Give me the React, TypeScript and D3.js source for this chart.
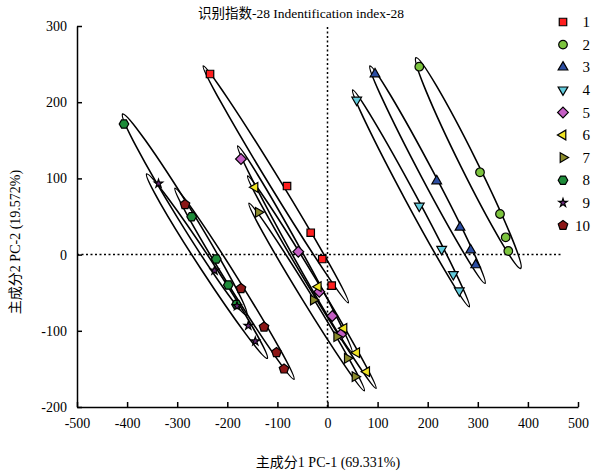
import React, { useEffect, useRef } from 'react';
import * as d3 from 'd3';

const W = 602;
const H = 475;

const seriesNames = ['1', '2', '3', '4', '5', '6', '7', '8', '9', '10'];
const seriesColors = ['#ff1f1f', '#7cc43e', '#2c4ea3', '#62cbdc', '#c45ec4', '#f0e424', '#8a8a2a', '#1e8c3a', '#6a2a7a', '#8b1616'];
const seriesShapes = ['square', 'circle', 'up', 'down', 'diamond', 'left', 'right', 'hexagon', 'star', 'pentagon'];

// PC-1 scores per group
const pc1Values = [
  [-234.5, -80.8, -33.5, -10.4, 8.4],
  [183.2, 304.4, 344.3, 355.7, 360.9],
  [94.8, 218.0, 264.5, 285.8, 295.8],
  [58.3, 183.2, 227.9, 251.1, 263.1],
  [-172.7, -58.3, -16.4, 9.6, 26.9],
  [-144.7, -18.4, 32.9, 58.3, 78.2],
  [-138.1, -28.3, 18.4, 39.5, 54.9],
  [-406.2, -271.1, -222.0, -198.0, -181.6],
  [-337.3, -225.5, -180.6, -158.1, -144.1],
  [-284.4, -172.7, -126.7, -101.8, -86.8],
];

// PC-2 scores per group
const pc2Values = [
  [237.0, 90.0, 28.7, -5.8, -40.8],
  [246.6, 108.0, 53.3, 22.7, 4.7],
  [237.0, 96.6, 35.8, 6.0, -13.6],
  [202.9, 63.8, 7.0, -25.9, -47.4],
  [125.5, 3.8, -48.7, -80.6, -104.6],
  [88.3, -42.1, -96.7, -128.7, -153.7],
  [55.5, -59.6, -107.7, -136.1, -160.2],
  [171.4, 49.7, -5.8, -39.9, -65.5],
  [93.3, -20.9, -67.5, -93.3, -113.8],
  [65.7, -44.5, -95.0, -128.5, -150.1],
];

// confidence ellipses: ends of the long axis (PC-1, PC-2) and short/long axis ratio
const ellipseStart = [
  [-247.9, 247.5], [176.6, 258.4], [84.8, 247.5], [50.3, 216.0], [-179.2, 142.5],
  [-159.3, 103.1], [-156.7, 67.3], [-408.8, 184.5], [-360.9, 105.8], [-304.4, 87.0],
];
const ellipseEnd = [
  [41.5, -63.1], [385.6, -18.0], [314.4, -37.7], [283.0, -68.4], [48.9, -127.8],
  [96.8, -175.5], [73.5, -178.6], [-161.3, -79.3], [-120.2, -136.1], [-66.9, -163.6],
];
const ellipseRatio = [0.04, 0.07, 0.052, 0.046, 0.042, 0.04, 0.045, 0.066, 0.06, 0.05];

const xTicks = [-500, -400, -300, -200, -100, 0, 100, 200, 300, 400, 500];
const yTicks = [-200, -100, 0, 100, 200, 300];

const serif = "'Liberation Serif', 'Times New Roman', 'Noto Sans CJK SC', serif";

const polygon = (n: number, r: number, rot: number) => {
  const pts = d3.range(n).map(i => {
    const a = rot + (i * 2 * Math.PI) / n;
    return [r * Math.cos(a), r * Math.sin(a)];
  });
  return 'M' + pts.map(p => p.join(',')).join('L') + 'Z';
};

const symbolPath = (shape: string) => {
  switch (shape) {
    case 'square': return d3.symbol(d3.symbolSquare, 56)();
    case 'circle': return d3.symbol(d3.symbolCircle, 58)();
    case 'up': return polygon(3, 5.6, -Math.PI / 2);
    case 'down': return polygon(3, 5.6, Math.PI / 2);
    case 'left': return polygon(3, 5.6, Math.PI);
    case 'right': return polygon(3, 5.6, 0);
    case 'diamond': return polygon(4, 5.4, 0);
    case 'hexagon': return polygon(6, 4.8, 0);
    case 'pentagon': return polygon(5, 5, -Math.PI / 2);
    case 'star': return d3.symbol(d3.symbolStar, 22)();
    default: return d3.symbol(d3.symbolCircle, 58)();
  }
};

const App = () => {
  const xAxisRef = useRef<SVGGElement>(null);
  const yAxisRef = useRef<SVGGElement>(null);

  const x = d3.scaleLinear().domain([-500, 500]).range([77, 578]);
  const y = d3.scaleLinear().domain([-200, 300]).range([407, 26]);

  useEffect(() => {
    const xa = d3.axisBottom(x).tickValues(xTicks).tickSize(-5).tickSizeOuter(0).tickPadding(11)
      .tickFormat(d => String(d));
    const ya = d3.axisLeft(y).tickValues(yTicks).tickSize(-5).tickSizeOuter(0).tickPadding(10)
      .tickFormat(d => String(d));
    const gx = d3.select(xAxisRef.current).call(xa);
    const gy = d3.select(yAxisRef.current).call(ya);
    [gx, gy].forEach(g => {
      g.selectAll('path, line').attr('stroke', '#000').attr('stroke-width', 1.5);
      g.selectAll('text').attr('fill', '#000').style('font-size', '14px').style('font-family', serif);
    });
  }, []);

  return (
    <svg width={W} height={H} style={{ position: 'absolute', left: 0, top: 0, background: '#fff' }}>
      <text x={301} y={18} textAnchor="middle" fontSize={13.5} fontFamily={serif}>识别指数-28 Indentification index-28</text>

      {/* reference lines */}
      <line x1={x(-500)} x2={x(470)} y1={y(0)} y2={y(0)} stroke="#000" strokeWidth={1.5} strokeDasharray="2,2.5" />
      <line x1={x(0)} x2={x(0)} y1={y(-200)} y2={y(300)} stroke="#000" strokeWidth={1.5} strokeDasharray="2,2.5" />

      {ellipseStart.map((s, i) => {
        const e = ellipseEnd[i];
        const x1 = x(s[0]), y1 = y(s[1]), x2 = x(e[0]), y2 = y(e[1]);
        const cx = (x1 + x2) / 2, cy = (y1 + y2) / 2;
        const rx = Math.hypot(x2 - x1, y2 - y1) / 2;
        const ang = (Math.atan2(y2 - y1, x2 - x1) * 180) / Math.PI;
        return (
          <ellipse key={'e' + i} cx={cx} cy={cy} rx={rx} ry={rx * ellipseRatio[i]}
            transform={`rotate(${ang} ${cx} ${cy})`} fill="none" stroke="#000" strokeWidth={1.6} />
        );
      })}

      {pc1Values.map((xs, i) => xs.map((v, j) => (
        <path key={`p${i}-${j}`} d={symbolPath(seriesShapes[i]) || ''}
          transform={`translate(${x(v)},${y(pc2Values[i][j])})`}
          fill={seriesColors[i]} stroke="#000" strokeWidth={1.2} />
      )))}

      <g ref={xAxisRef} transform={`translate(0,${y(-200)})`} />
      <g ref={yAxisRef} transform={`translate(${x(-500)},0)`} />

      {/* legend */}
      {seriesNames.map((name, i) => (
        <g key={'l' + i} transform={`translate(0,${22 + i * 22.6})`}>
          <path d={symbolPath(seriesShapes[i]) || ''} transform="translate(563,0)"
            fill={seriesColors[i]} stroke="#000" strokeWidth={1.2} />
          <text x={590} y={0} dy="0.35em" textAnchor="end" fontSize={15} fontFamily={serif}>{name}</text>
        </g>
      ))}

      <text x={328} y={467} textAnchor="middle" fontSize={14} fontFamily={serif}>主成分1 PC-1 (69.331%)</text>
      <text transform="translate(20,242) rotate(-90)" textAnchor="middle" fontSize={14} fontFamily={serif}>主成分2 PC-2 (19.572%)</text>
    </svg>
  );
};

export default App;
